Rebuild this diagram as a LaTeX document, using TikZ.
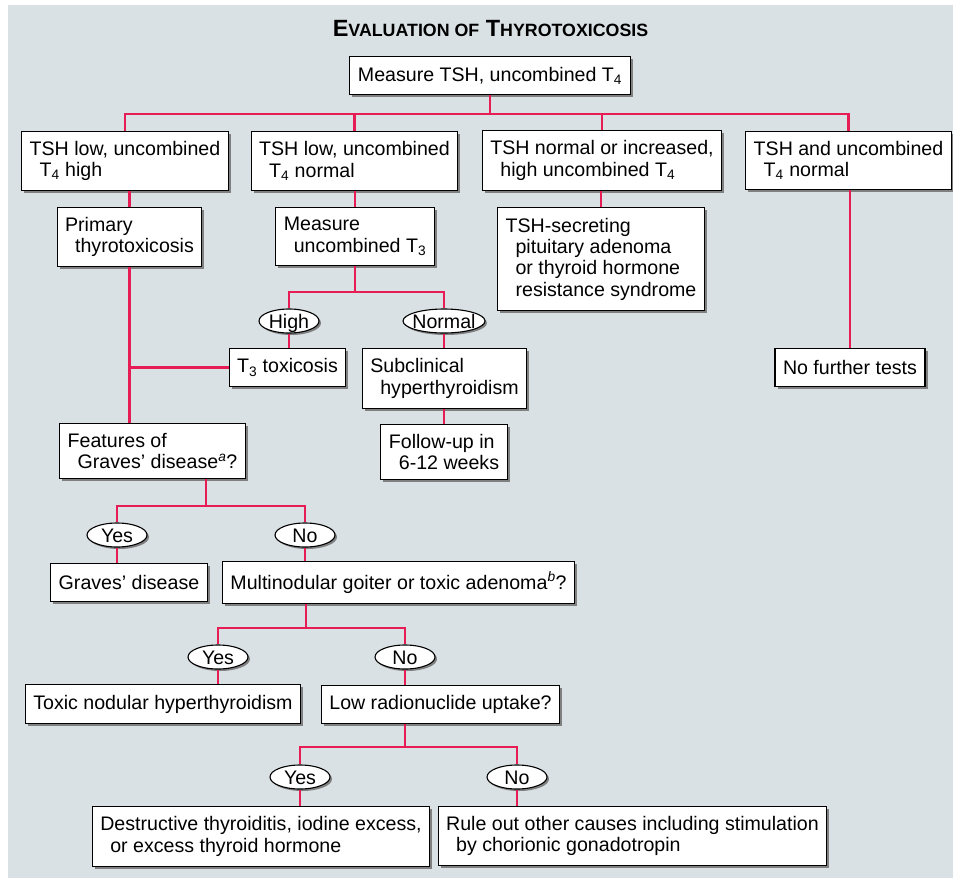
\documentclass[tikz,border=0pt]{standalone}
\usepackage{fontspec}
\setmainfont{Liberation Sans}
\usetikzlibrary{shapes.geometric,shadows}
\definecolor{panelgray}{RGB}{218,225,229}
\definecolor{linkred}{RGB}{232,28,84}
\newcommand{\ind}{\hspace*{10pt}}
\newcommand{\smcap}[1]{{\fontsize{17.8}{18}\selectfont #1}}

\begin{document}
\begin{tikzpicture}[x=1pt, y=-1pt]
\tikzstyle{box} = [draw=black, line width=1.1pt, fill=white, align=left, inner xsep=8pt, inner ysep=10pt, minimum height=38pt, font=\fontsize{19.6}{21.3}\selectfont, general shadow={fill=black!50, shadow xshift=2.5pt, shadow yshift=-2.5pt}]
\tikzstyle{ans} = [ellipse, draw=black, line width=1.1pt, fill=white, inner sep=0pt, minimum width=60pt, minimum height=24pt, text height=14pt, text depth=0pt, font=\fontsize{19.6}{21.3}\selectfont, general shadow={fill=black!50, shadow xshift=2pt, shadow yshift=-2pt}]
\tikzstyle{link} = [linkred, line width=2.6pt]
\useasboundingbox[fill=white] (0,0) rectangle (953,878);
\fill[panelgray] (8,5) rectangle (953,878);
\node[font=\bfseries\fontsize{23.5}{24}\selectfont, anchor=base] (title) at (490.5,36) {E\smcap{VALUATION OF} T\smcap{HYROTOXICOSIS}};
% first level
\node[box] (measure) at (490,75.5) {Measure TSH, uncombined T\textsubscript{4}};
\node[box] (tlh) at (125,161) {TSH low, uncombined\\\ind T\textsubscript{4} high};
\node[box] (tln) at (354.5,161) {TSH low, uncombined\\\ind T\textsubscript{4} normal};
\node[box] (tnh) at (602,160.5) {TSH normal or increased,\\\ind high uncombined T\textsubscript{4}};
\node[box] (tnn) at (848.5,160.5) {TSH and uncombined\\\ind T\textsubscript{4} normal};
\node[box] (primary) at (129.5,237) {Primary\\\ind thyrotoxicosis};
\node[box] (meast3) at (355,236.5) {Measure\\\ind uncombined T\textsubscript{3}};
\node[box] (secreting) at (601,259) {TSH-secreting\\\ind pituitary adenoma\\\ind or thyroid hormone\\\ind resistance syndrome};
\node[box] (nofurther) at (850,367.5) {No further tests};
% T3 branch
\node[ans] (high) at (289,321) {\makebox[0pt]{High}};
\node[ans, minimum width=82pt] (normal) at (444,321) {\makebox[0pt]{Normal}};
\node[box] (t3tox) at (287.5,367.5) {T\textsubscript{3} toxicosis};
\node[box] (subclin) at (444.5,378.5) {Subclinical\\\ind hyperthyroidism};
\node[box] (followup) at (444,452) {Follow-up in\\\ind 6-12 weeks};
% Graves branch
\node[box] (features) at (152.5,451) {Features of\\\ind Graves' disease\textsuperscript{\itshape a}?};
\node[ans] (yes1) at (117,535) {\makebox[0pt]{Yes}};
\node[ans] (no1) at (305,535) {\makebox[0pt]{No}};
\node[box] (graves) at (129,582.5) {Graves' disease};
\node[box] (multi) at (398.5,582.5) {Multinodular goiter or toxic adenoma\textsuperscript{\itshape b}?};
\node[ans] (yes2) at (218,657) {\makebox[0pt]{Yes}};
\node[ans] (no2) at (405,657) {\makebox[0pt]{No}};
\node[box] (toxic) at (163,704) {Toxic nodular hyperthyroidism};
\node[box] (lowrad) at (440.5,704.5) {Low radionuclide uptake?};
\node[ans] (yes3) at (300,777) {\makebox[0pt]{Yes}};
\node[ans] (no3) at (517,777) {\makebox[0pt]{No}};
\node[box] (destr) at (261,836.5) {Destructive thyroiditis, iodine excess,\\\ind or excess thyroid hormone};
\node[box] (ruleout) at (632.5,836) {Rule out other causes including stimulation\\\ind by chorionic gonadotropin};
% junctions
\coordinate (j0) at (490,114);
\coordinate (j1) at (355,292);
\coordinate (j2) at (206,506);
\coordinate (j3) at (306,628);
\coordinate (j4) at (405,747);
\draw[link] (measure.south) -- (j0);
\draw[link] (j0) -| (tlh.north);
\draw[link] (j0) -| (tln.north);
\draw[link] (j0) -| (tnh.north);
\draw[link] (j0) -| (tnn.north);
\draw[link] (primary.north |- tlh.south) -- (primary.north);
\draw[link] (meast3.north |- tln.south) -- (meast3.north);
\draw[link] (secreting.north |- tnh.south) -- (secreting.north);
\draw[link] (nofurther.north |- tnn.south) -- (nofurther.north);
\draw[link] (meast3.south) -- (j1);
\draw[link] (j1) -| (high.north);
\draw[link] (j1) -| (normal.north);
\draw[link] (high.south) -- (high.south |- t3tox.north);
\draw[link] (normal.south) -- (normal.south |- subclin.north);
\draw[link] (normal.south |- subclin.south) -- (normal.south |- followup.north);
\draw[link] (primary.south) -- (primary.south |- features.north);
\draw[link] (t3tox.west) -- (t3tox.west -| primary.south);
\draw[link] (j2 |- features.south) -- (j2);
\draw[link] (j2) -| (yes1.north);
\draw[link] (j2) -| (no1.north);
\draw[link] (yes1.south) -- (yes1.south |- graves.north);
\draw[link] (no1.south) -- (no1.south |- multi.north);
\draw[link] (j3 |- multi.south) -- (j3);
\draw[link] (j3) -| (yes2.north);
\draw[link] (j3) -| (no2.north);
\draw[link] (yes2.south) -- (yes2.south |- toxic.north);
\draw[link] (no2.south) -- (no2.south |- lowrad.north);
\draw[link] (j4 |- lowrad.south) -- (j4);
\draw[link] (j4) -| (yes3.north);
\draw[link] (j4) -| (no3.north);
\draw[link] (yes3.south) -- (yes3.south |- destr.north);
\draw[link] (no3.south) -- (no3.south |- ruleout.north);
\end{tikzpicture}
\end{document}
